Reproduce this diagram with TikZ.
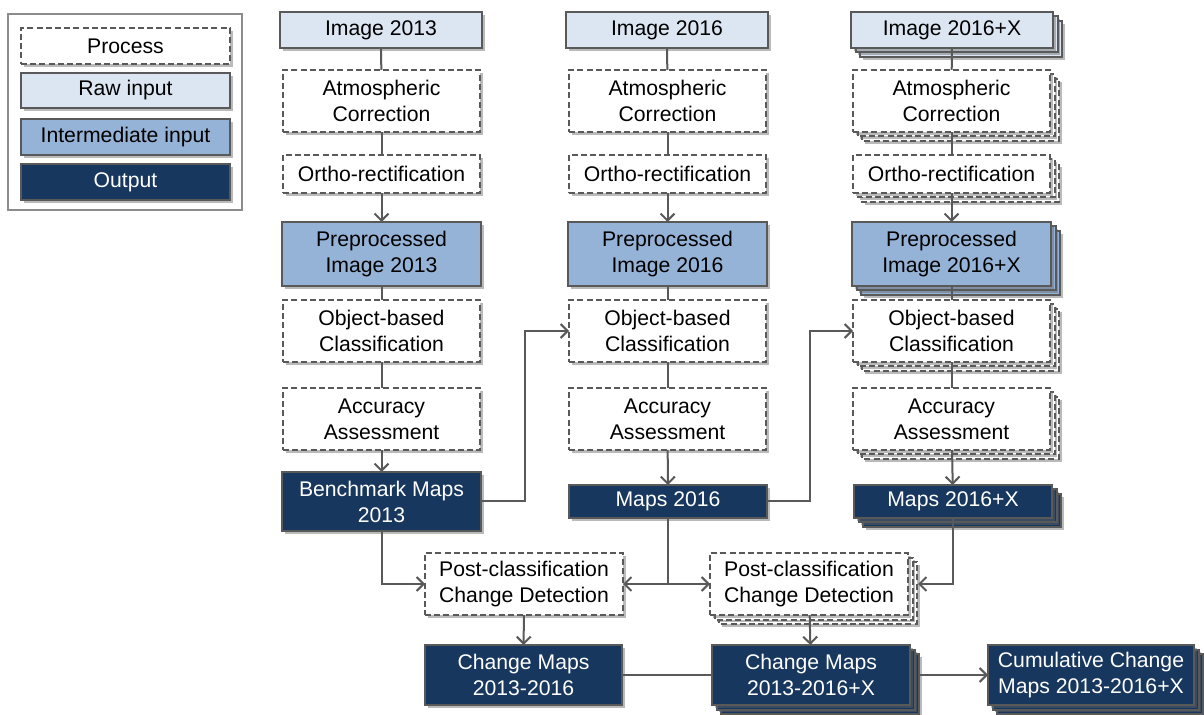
\documentclass[tikz,border=0pt]{standalone}
\usepackage{fontspec}
\setmainfont{Liberation Sans}
\usetikzlibrary{arrows.meta,shadows}
\definecolor{rawc}{HTML}{DCE6F2}
\definecolor{midc}{HTML}{95B3D7}
\definecolor{outc}{HTML}{17375E}
\definecolor{edgec}{HTML}{595959}
\tikzset{
 base/.style={draw=edgec, line width=1pt, inner sep=1pt, outer sep=0pt, align=center,
   font=\fontsize{10.6}{13}\selectfont,
   drop shadow={shadow xshift=1.3pt, shadow yshift=-1.3pt, fill=black!60, opacity=0.45}},
 proc/.style={base, dash pattern=on 3pt off 1.6pt, fill=white},
 raw/.style={base, fill=rawc},
 mid/.style={base, fill=midc},
 outb/.style={base, fill=outc, text=white},
 conn/.style={draw=edgec, line width=1pt},
 arr/.style={conn, -{Straight Barb[length=3.5pt,width=7pt,line width=1pt]}},
}
\newcommand\bx[7]{\node[#6, minimum width={(#4-#2)*0.5pt}, minimum height={(#5-#3)*0.5pt}] (#1) at ({(#2+#4)/2},{(#3+#5)/2}) {#7};}
\newcommand\stk[7]{%
 \path[#6] ({#2+9},{#3+9}) rectangle ({#4+9},{#5+9});
 \path[#6] ({#2+4.5},{#3+4.5}) rectangle ({#4+4.5},{#5+4.5});
 \bx{#1}{#2}{#3}{#4}{#5}{#6}{#7}}
\begin{document}
\begin{tikzpicture}[x=0.5pt,y=-0.5pt]
\useasboundingbox (0,0) rectangle (1204,715);
% legend
\node[draw=gray!90, line width=1pt, minimum width={234*0.5pt}, minimum height={196*0.5pt}, outer sep=0pt] (legend) at (125,112) {};
\bx{lp}{21}{28}{230}{64}{proc}{Process}
\bx{lr}{21}{73}{230}{108}{raw}{Raw input}
\bx{li}{21}{119}{230}{155}{mid}{Intermediate input}
\bx{lo}{21}{164}{230}{200}{outb}{Output}
% column 1
\bx{i1}{280}{12}{482}{48}{raw}{Image 2013}
\bx{a1}{283}{70}{480}{132}{proc}{Atmospheric\\Correction}
\bx{o1}{283}{155}{480}{193}{proc}{Ortho-rectification}
\bx{p1}{282}{222}{481}{286}{mid}{Preprocessed\\Image 2013}
\bx{c1}{283}{300}{480}{362}{proc}{Object-based\\Classification}
\bx{s1}{283}{388}{480}{450}{proc}{Accuracy\\Assessment}
\bx{m1}{282}{472}{481}{531}{outb}{Benchmark Maps\\2013}
% column 2
\bx{i2}{566}{12}{768}{48}{raw}{Image 2016}
\bx{a2}{569}{70}{766}{132}{proc}{Atmospheric\\Correction}
\bx{o2}{569}{155}{766}{193}{proc}{Ortho-rectification}
\bx{p2}{568}{222}{767}{286}{mid}{Preprocessed\\Image 2016}
\bx{c2}{569}{300}{766}{362}{proc}{Object-based\\Classification}
\bx{s2}{569}{388}{766}{450}{proc}{Accuracy\\Assessment}
\bx{m2}{569}{485}{767}{518}{outb}{Maps 2016}
% column 3
\stk{i3}{851}{12}{1053}{48}{raw}{Image 2016+X}
\stk{a3}{853}{70}{1050}{132}{proc}{Atmospheric\\Correction}
\stk{o3}{853}{155}{1050}{193}{proc}{Ortho-rectification}
\stk{p3}{852}{222}{1051}{286}{mid}{Preprocessed\\Image 2016+X}
\stk{c3}{853}{300}{1050}{362}{proc}{Object-based\\Classification}
\stk{s3}{853}{388}{1050}{450}{proc}{Accuracy\\Assessment}
\stk{m3}{854}{485}{1052}{518}{outb}{Maps 2016+X}
% bottom
\bx{d1}{425}{553}{623}{615}{proc}{Post-classification\\Change Detection}
\stk{d2}{710}{553}{908}{615}{proc}{Post-classification\\Change Detection}
\bx{cm1}{425}{645}{622}{705}{outb}{Change Maps\\2013-2016}
\stk{cm2}{712}{645}{910}{705}{outb}{Change Maps\\2013-2016+X}
\stk{cu}{988}{645}{1194}{705}{outb}{Cumulative Change\\Maps 2013-2016+X}
% connectors
\foreach \c in {1,2,3}{
 \draw[conn] (i\c) -- (a\c);
 \draw[conn] (a\c) -- (o\c);
 \draw[arr] (o\c) -- (p\c);
 \draw[conn] (p\c) -- (c\c);
 \draw[conn] (c\c) -- (s\c);
 \draw[arr] (s\c) -- (m\c);
}
\coordinate (j1) at (525,331);
\coordinate (j2) at (810,331);
\draw[arr] (m1.east) -| (j1) -- (c2.west);
\draw[arr] (m2.east) -| (j2) -- (c3.west);
\draw[arr] (m1.south) |- (d1.west);
\draw[arr] (m2.south) |- (d1.east);
\draw[arr] (m2.south) |- (d2.west);
\coordinate (d2r) at (918,584);
\draw[arr] (m3.south) |- (d2r);
\draw[arr] (d1) -- (cm1);
\draw[arr] (d2) -- (cm2);
\draw[conn] (cm1) -- (cm2);
\coordinate (cm2r) at (920,675);
\draw[arr] (cm2r) -- (cu.west);
\end{tikzpicture}
\end{document}
